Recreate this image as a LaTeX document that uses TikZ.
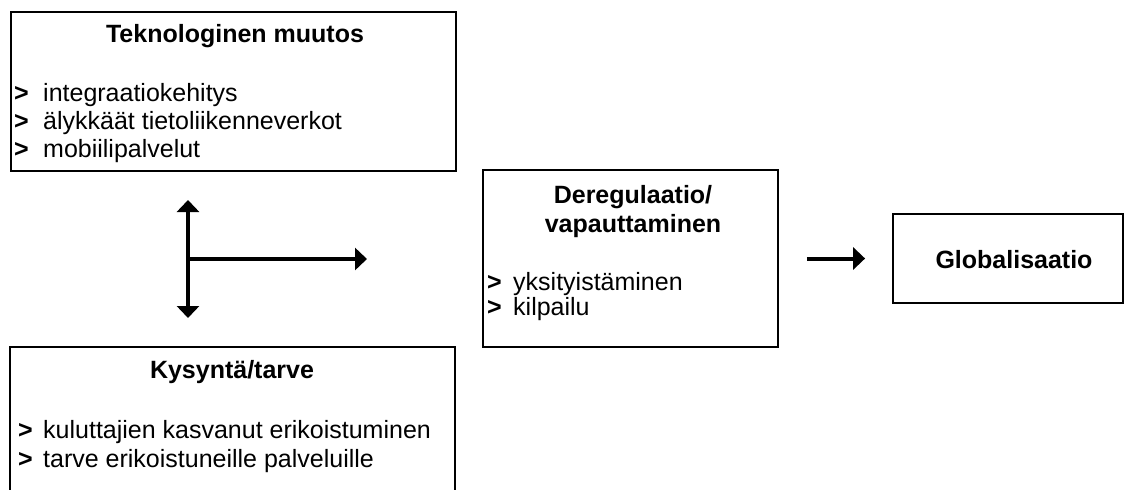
\documentclass[tikz,border=0pt]{standalone}
\usepackage{fontspec}
\setmainfont{Liberation Sans}
\usetikzlibrary{arrows.meta}
\tikzset{
  box/.style={draw=black, line width=1.8pt, rectangle, inner sep=0pt},
  title/.style={anchor=base, inner sep=0pt, font=\fontsize{25}{29}\selectfont\bfseries},
  item/.style={anchor=base west, inner sep=0pt, font=\fontsize{25}{29}\selectfont},
  thickarrow/.style={line width=4pt, -{Triangle[width=22pt,length=12pt]}},
  twoarrow/.style={line width=4pt, {Triangle[width=22pt,length=12pt]}-{Triangle[width=22pt,length=12pt]}}
}
\newcommand{\bul}{\makebox[29pt][l]{\textbf{>}}}
\begin{document}
\begin{tikzpicture}[x=1pt,y=-1pt]
\useasboundingbox (0,0) rectangle (1125,490);
\clip (0,0) rectangle (1125,490);
\fill[white] (0,0) rectangle (1125,490);
% boxes
\node[box, minimum width=445pt, minimum height=159pt] (tek) at (233.5,91.5) {};
\node[box, minimum width=445pt, minimum height=173pt] (kys) at (232.5,433.5) {};
\node[box, minimum width=295pt, minimum height=177pt] (der) at (630.5,258.5) {};
\node[box, minimum width=230pt, minimum height=89pt] (glob) at (1008,258.5) {};
% texts
\node[title] (tektitle) at (235,42) {Teknologinen muutos};
\node[item] (tek1) at (14,101) {\bul integraatiokehitys};
\node[item] (tek2) at (14,129) {\bul älykkäät tietoliikenneverkot};
\node[item] (tek3) at (14,157) {\bul mobiilipalvelut};
\node[title] (kystitle) at (232,378) {Kysyntä/tarve};
\node[item] (kys1) at (18,438) {\makebox[25pt][l]{\textbf{>}}kuluttajien kasvanut erikoistuminen};
\node[item] (kys2) at (18,467) {\makebox[25pt][l]{\textbf{>}}tarve erikoistuneille palveluille};
\node[title] (dertitle1) at (633,203) {Deregulaatio/};
\node[title] (dertitle2) at (633,232) {vapauttaminen};
\node[item] (der1) at (487,290) {\makebox[26pt][l]{\textbf{>}}yksityistäminen};
\node[item] (der2) at (487,315) {\makebox[26pt][l]{\textbf{>}}kilpailu};
\node[title] (globtitle) at (1014,268) {Globalisaatio};
% connectors
\coordinate (vtop) at (188,200);
\coordinate (vbot) at (188,318);
\coordinate (hstart) at (188,259);
\coordinate (hend) at (367,259);
\draw[twoarrow] (vtop) -- (vbot);
\draw[thickarrow] (hstart) -- (hend);
\draw[thickarrow] ([xshift=28pt]der.east) -- ([xshift=-27pt]glob.west);
\end{tikzpicture}
\end{document}
